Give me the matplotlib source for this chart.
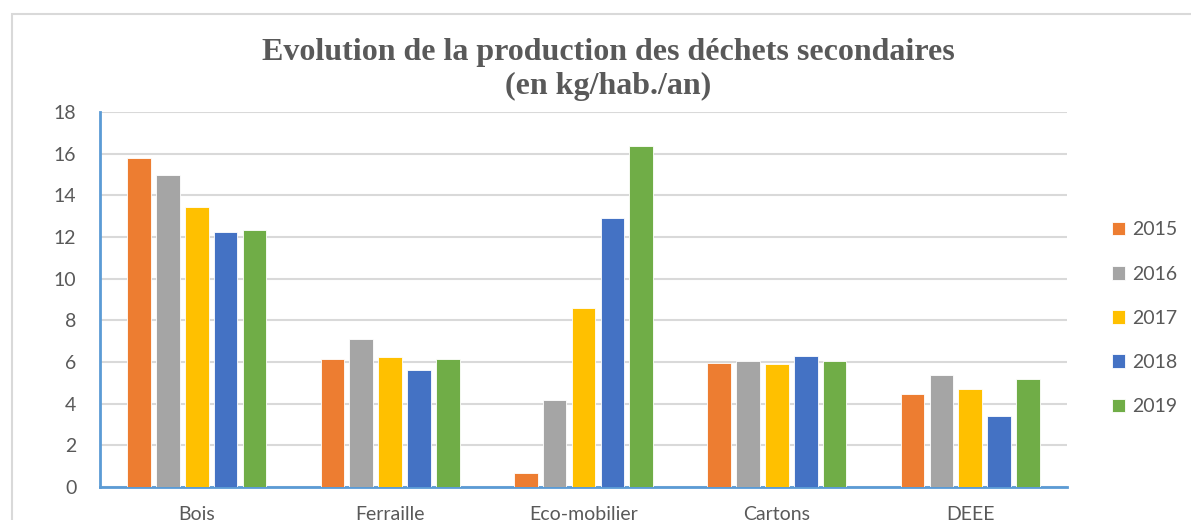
import numpy as np
import matplotlib.pyplot as plt
from matplotlib.patches import Rectangle

# data (kg/hab./an)
categories = ["Bois", "Ferraille", "Eco-mobilier", "Cartons", "DEEE"]
years = ["2015", "2016", "2017", "2018", "2019"]
v2015 = [15.8, 6.14, 0.69, 5.94, 4.48]
v2016 = [15.0, 7.1, 4.18, 6.03, 5.36]
v2017 = [13.44, 6.24, 8.58, 5.89, 4.7]
v2018 = [12.24, 5.62, 12.93, 6.29, 3.42]
v2019 = [12.34, 6.14, 16.39, 6.03, 5.2]
series = [v2015, v2016, v2017, v2018, v2019]
colors = ["#ed7d31", "#a5a5a5", "#ffc000", "#4472c4", "#70ad47"]

W, H = 1191, 520
fig = plt.figure(figsize=(W / 100, H / 100), dpi=100)

# outer chart border (cut on the right and bottom)
fig.patches.append(Rectangle((12 / W, -0.1), 1.2, 1 - 14 / H + 0.1,
                             transform=fig.transFigure, fill=False,
                             edgecolor="#d9d9d9", linewidth=1.5))

ax = fig.add_axes([100 / W, 33 / H, 967 / W, 375 / H])

x = np.arange(len(categories))
slot = 0.149
for i, vals in enumerate(series):
    ax.bar(x + (i - 2) * slot, vals, width=slot * 0.82, color=colors[i],
           label=years[i], zorder=3, edgecolor="white", linewidth=0.6)

ax.set_xlim(-0.5, len(categories) - 0.5)
ax.set_ylim(0, 18)
ax.set_yticks(range(0, 19, 2))
ax.set_xticks(x)
ax.set_xticklabels(categories)
ax.yaxis.grid(True, color="#d9d9d9", linewidth=1.5, zorder=0)
ax.tick_params(length=0, labelsize=14, labelcolor="#595959")
ax.tick_params(axis="y", pad=17)
ax.tick_params(axis="x", pad=14)
for lab in ax.get_xticklabels() + ax.get_yticklabels():
    lab.set_fontfamily("Lato")

for s in ["top", "right"]:
    ax.spines[s].set_visible(False)
for s in ["left", "bottom"]:
    ax.spines[s].set_color("#5b9bd5")
    ax.spines[s].set_linewidth(2)

fig.text(608 / W, 1 - 38 / H,
         "Evolution de la production des déchets secondaires\n(en kg/hab./an)",
         ha="center", va="top", fontsize=23, fontweight="bold",
         family="Liberation Serif", color="#595959", linespacing=1.2)

leg = ax.legend(loc="center left", bbox_to_anchor=(1.028, 0.45), frameon=False,
                fontsize=14, labelspacing=1.4, handlelength=0.7,
                handleheight=0.7, handletextpad=0.35)
for t in leg.get_texts():
    t.set_color("#595959")
    t.set_fontfamily("Lato")

fig.savefig("out.png", dpi=100)
